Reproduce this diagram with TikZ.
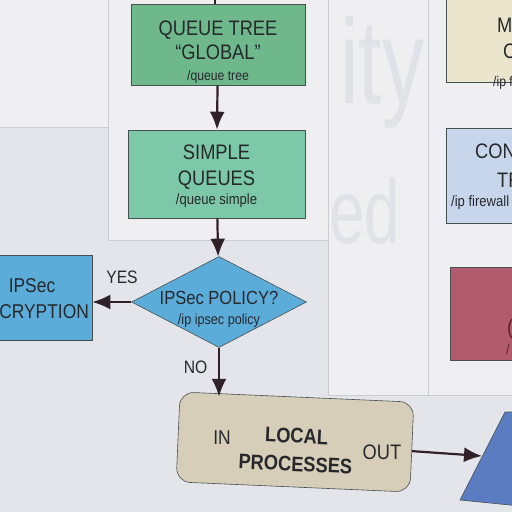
\documentclass[tikz,border=0pt]{standalone}
\usepackage{fontspec}
\setmainfont{Liberation Sans}[FakeStretch=0.87]
\newfontfamily\ghostfont{Liberation Sans}[FakeStretch=0.7]
\usetikzlibrary{shapes,arrows,arrows.meta}
\definecolor{wall}{RGB}{227,229,235}
\definecolor{paper}{RGB}{239,239,242}
\definecolor{paperedge}{RGB}{204,205,211}
\definecolor{ghost}{RGB}{225,226,231}
\definecolor{ink}{RGB}{38,40,44}
\definecolor{arrowink}{RGB}{48,32,40}
\definecolor{boxline}{RGB}{70,80,80}
\definecolor{qtreegreen}{RGB}{110,184,140}
\definecolor{sqgreen}{RGB}{124,200,168}
\definecolor{ipblue}{RGB}{92,172,218}
\definecolor{localbeige}{RGB}{214,206,184}
\definecolor{outblue}{RGB}{92,124,194}
\definecolor{mangbeige}{RGB}{234,229,204}
\definecolor{connblue}{RGB}{200,214,236}
\definecolor{filtred}{RGB}{178,90,110}
\definecolor{filtink}{RGB}{90,30,40}
\tikzstyle{paperbox} = [fill=paper, draw=paperedge, line width=0.6pt]
\tikzstyle{block} = [draw=boxline, rectangle, line width=0.6pt, inner sep=0pt]
\tikzstyle{decision} = [draw=boxline, diamond, fill=ipblue, line width=0.6pt, inner sep=0pt]
\tikzstyle{txt} = [align=center, text=ink, inner sep=0pt]
\tikzstyle{ghosttxt} = [text=ghost, inner sep=0pt, anchor=base west]
\tikzstyle{flow} = [-{Latex[length=18pt,width=15pt]}, draw=arrowink, line width=2.2pt]

\begin{document}
\begin{tikzpicture}[x=1pt,y=-1pt]
    \useasboundingbox (0,0) rectangle (512,512);
    \clip (0,0) rectangle (512,512);
 % wall and sheets
    \fill[wall] (-5,-5) rectangle (520,520);
    \draw[paperbox] (-5,-5) rectangle (108,127);
    \draw[paperbox] (328,-5) rectangle (428,395);
    \node [ghosttxt, font=\ghostfont\fontsize{120}{120}\selectfont, name=ghostity] at (340,103) {ity};
    \node [ghosttxt, font=\ghostfont\fontsize{91}{91}\selectfont, name=ghosted] at (329,243) {ed};
    \draw[paperbox] (108,-5) rectangle (328,240);
    \draw[paperbox] (428,-5) rectangle (520,395);
 % nodes
    \coordinate (topin) at (215,-10);
    \node [block, fill=qtreegreen, minimum width=174pt, minimum height=81pt, name=qtree] at (218,44.5) {};
    \node [txt, anchor=north, font=\fontsize{21}{24}\selectfont, name=qtreetxt] at (218,20.5) {QUEUE TREE\\“GLOBAL”\\[-3pt]{\fontsize{14}{16}\selectfont /queue tree}};
    \node [block, fill=sqgreen, minimum width=177pt, minimum height=88pt, name=squeue] at (216.5,174) {};
    \node [txt, anchor=north, font=\fontsize{21}{26}\selectfont, name=squeuetxt] at (216.5,144.5) {SIMPLE\\QUEUES\\[-6.5pt]{\fontsize{15}{17}\selectfont /queue simple}};
    \node [decision, minimum width=175pt, minimum height=91pt, name=policy] at (219,302) {};
    \node [txt, anchor=north, font=\fontsize{19}{20}\selectfont, name=policytxt] at (219,291) {IPSec POLICY?\\{\fontsize{14.5}{16}\selectfont /ip ipsec policy}};
    \node [block, fill=ipblue, minimum width=112pt, minimum height=85pt, name=decrypt] at (36,297.5) {};
    \node [txt, anchor=north, font=\fontsize{20}{26}\selectfont, name=decrypttxt] at (32,278.3) {IPSec\\DECRYPTION};
    \node [block, fill=localbeige, rounded corners=14pt, minimum width=234pt, minimum height=90pt, rotate=-2.5, name=local] at (295,442) {};
    \node [txt, font=\bfseries\fontsize{21}{28}\selectfont, rotate=-2.5, name=localtxt] at (296,450) {LOCAL\\PROCESSES};
    \node [txt, font=\fontsize{20}{22}\selectfont, name=localin] at (222,438) {IN};
    \node [txt, font=\fontsize{21}{22}\selectfont, name=localout] at (382,452) {OUT};
    \node [txt, font=\fontsize{18}{20}\selectfont, name=yes] at (122,277) {YES};
    \node [txt, font=\fontsize{18}{20}\selectfont, name=no] at (195.5,367) {NO};
    \coordinate (outend) at (482,456);
    \fill[outblue, draw=boxline, line width=0.6pt] (505,412) -- (520,412) -- (520,506) -- (460,500) -- cycle;
 % clipped boxes on the right
    \node [block, fill=mangbeige, minimum width=80pt, minimum height=95pt, anchor=south west, name=mangle] at (446,83) {};
    \node [txt, anchor=base west, font=\fontsize{21}{24}\selectfont] at (497,32.5) {MANGLE};
    \node [txt, anchor=base west, font=\fontsize{21}{24}\selectfont] at (503,58) {CHAIN};
    \node [txt, anchor=base west, font=\fontsize{14}{16}\selectfont] at (493,86.5) {/ip firewall mangle};
    \node [block, fill=connblue, minimum width=80pt, minimum height=95pt, anchor=north west, name=conn] at (446,128) {};
    \node [txt, anchor=base west, font=\fontsize{21}{24}\selectfont] at (475,158.5) {CONNECTION};
    \node [txt, anchor=base west, font=\fontsize{21}{24}\selectfont] at (497,187.5) {TRACKING};
    \node [txt, anchor=base west, font=\fontsize{15}{16}\selectfont] at (451,206.5) {/ip firewall connection};
    \node [block, fill=filtred, minimum width=80pt, minimum height=93pt, anchor=north west, name=filt] at (450,267) {};
    \node [txt, text=filtink, anchor=base west, font=\fontsize{21}{24}\selectfont] at (507,334) {(};
    \node [txt, text=filtink, anchor=base west, font=\fontsize{14}{16}\selectfont] at (506,354) {/};
 % edges
    \draw [arrowink, line width=2.2pt] (topin) -- (qtree.north -| topin);
    \draw [flow] (qtree) -- (squeue);
    \draw [flow] (squeue) -- (policy);
    \draw [flow] (policy.west) -- (policy.west -| decrypt.east);
    \draw [flow] (policy.south) -- (policy.south |- local.north);
    \draw [flow] ([shift={(0,4)}]local.east) -- (outend);
\end{tikzpicture}
\end{document}
